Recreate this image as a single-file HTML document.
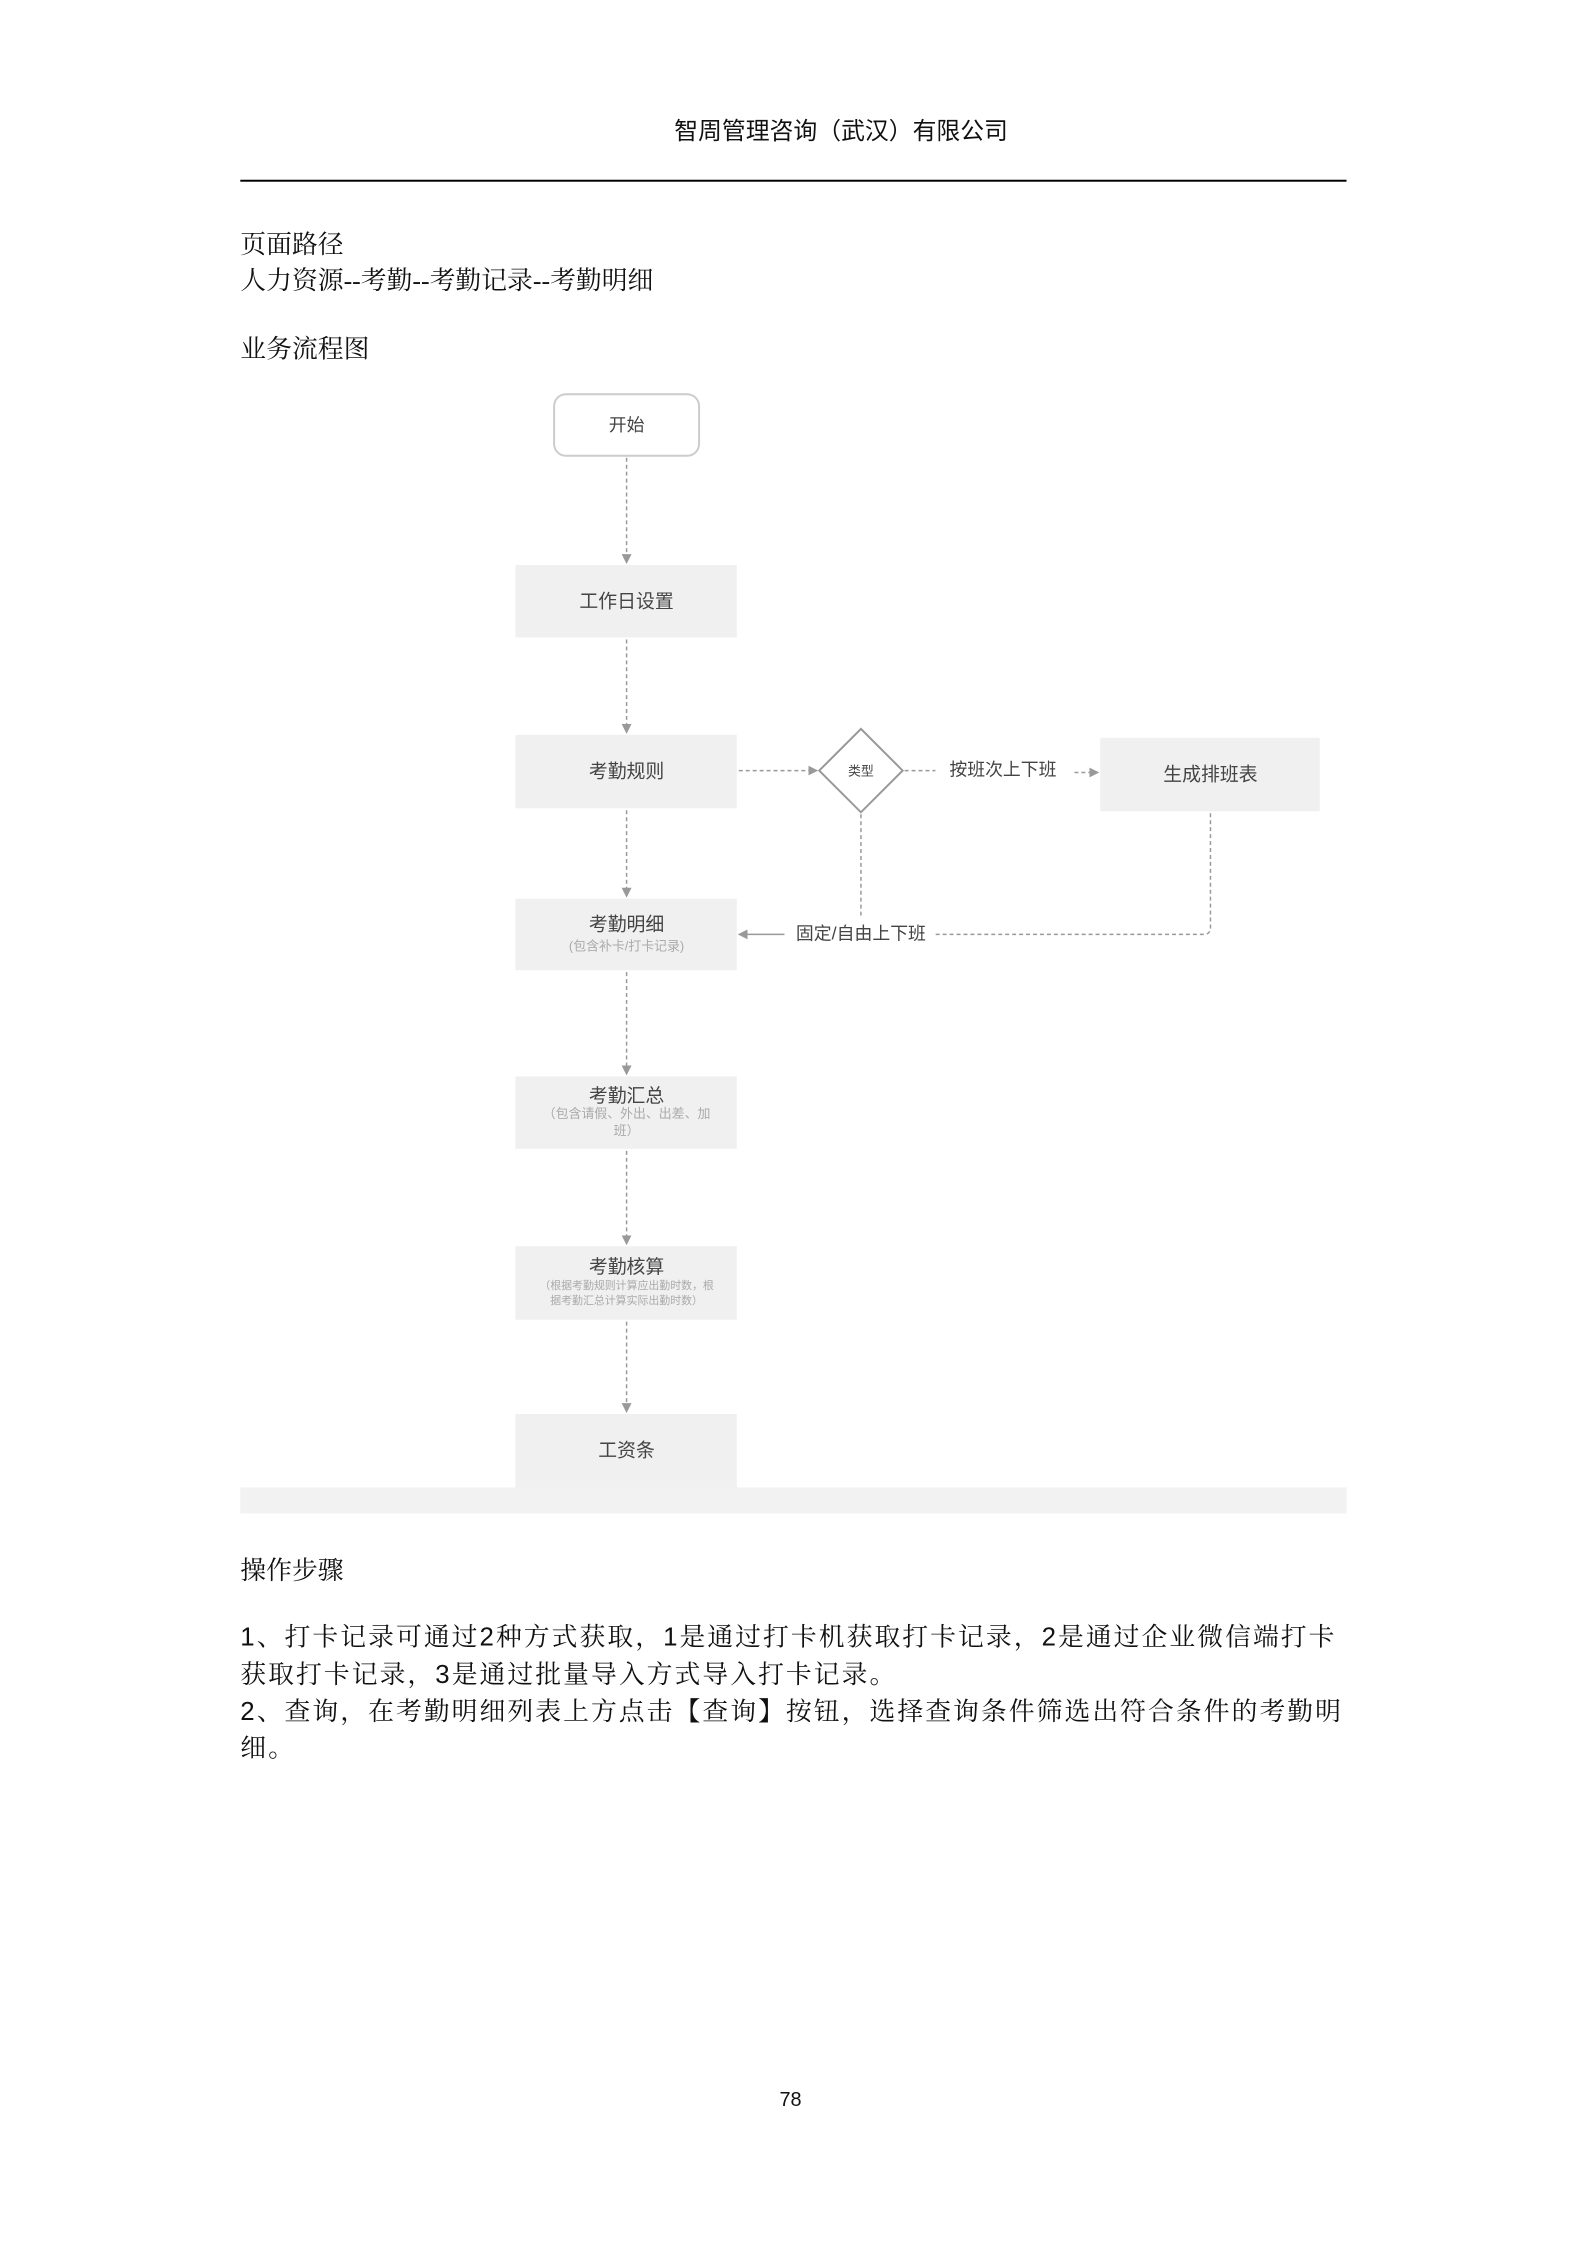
<!DOCTYPE html>
<html><head><meta charset="utf-8"><style>
html,body{margin:0;padding:0;background:#fff;}
body{width:1587px;height:2245px;position:relative;overflow:hidden;font-family:"Liberation Sans","Noto Sans CJK SC",sans-serif;color:#111;}
#w{position:absolute;left:0;top:0;width:1587px;height:2245px;transform:scale(0.993);transform-origin:0 0;}
.t{position:absolute;white-space:nowrap;}
.serif{font-family:"Liberation Serif","Noto Serif CJK SC",serif;font-size:26px;}
.n{font-family:"Liberation Sans",sans-serif;}
</style></head><body><div id="w">
<div class="t" style="left:0;width:1694px;text-align:center;top:112px;font-size:24px;">智周管理咨询（武汉）有限公司</div>
<div style="position:absolute;left:242px;top:181px;width:1114px;height:2px;background:#000;"></div>
<div class="t serif" style="left:242px;top:226px;">页面路径</div>
<div class="t serif" style="left:242px;top:262px;">人力资源--考勤--考勤记录--考勤明细</div>
<div class="t serif" style="left:242px;top:331px;">业务流程图</div>

<svg style="position:absolute;left:0;top:0" width="1587" height="2245" font-family="Liberation Sans, Noto Sans CJK SC, sans-serif">
<defs><marker id="a" markerWidth="10" markerHeight="10" refX="8" refY="5" orient="auto" markerUnits="userSpaceOnUse"><path d="M0,0 L10,5 L0,10 z" fill="#999"/></marker></defs>
<rect x="242" y="1498" width="1114" height="26" fill="#f2f2f2"/>
<rect x="558" y="397" width="146" height="62" rx="12" fill="#fff" stroke="#ccc" stroke-width="2"/>
<text x="631" y="434" text-anchor="middle" font-size="18" fill="#444">开始</text>
<g fill="#f0f0f0">
<rect x="519" y="569" width="223" height="73"/>
<rect x="519" y="740" width="223" height="74"/>
<rect x="1108" y="743" width="221" height="74"/>
<rect x="519" y="905" width="223" height="72"/>
<rect x="519" y="1084" width="223" height="73"/>
<rect x="519" y="1255" width="223" height="74"/>
<rect x="519" y="1424" width="223" height="74"/>
</g>
<g text-anchor="middle" font-size="19" fill="#444">
<text x="631" y="612">工作日设置</text>
<text x="631" y="783">考勤规则</text>
<text x="1219" y="786">生成排班表</text>
<text x="631" y="937">考勤明细</text>
<text x="631" y="1110">考勤汇总</text>
<text x="631" y="1282">考勤核算</text>
<text x="631" y="1467">工资条</text>
<text x="1010" y="781" font-size="18">按班次上下班</text>
<text x="867" y="946" font-size="18">固定/自由上下班</text>
</g>
<g text-anchor="middle" font-size="13" fill="#aaa">
<text x="631" y="957">(包含补卡/打卡记录)</text>
<text x="631" y="1126">（包含请假、外出、出差、加</text>
<text x="631" y="1143">班）</text>
<text x="631" y="1298" font-size="11">（根据考勤规则计算应出勤时数，根</text>
<text x="631" y="1313" font-size="11">据考勤汇总计算实际出勤时数）</text>
</g>
<polygon points="867,734 909,776 867,818 825,776" fill="#fff" stroke="#999" stroke-width="2"/>
<text x="867" y="781" text-anchor="middle" font-size="13" fill="#444">类型</text>
<g stroke="#999" stroke-width="1.5" stroke-dasharray="4,3" fill="none">
<line x1="631" y1="461" x2="631" y2="566" marker-end="url(#a)"/>
<line x1="631" y1="644" x2="631" y2="737" marker-end="url(#a)"/>
<line x1="631" y1="816" x2="631" y2="902" marker-end="url(#a)"/>
<line x1="631" y1="979" x2="631" y2="1081" marker-end="url(#a)"/>
<line x1="631" y1="1159" x2="631" y2="1252" marker-end="url(#a)"/>
<line x1="631" y1="1331" x2="631" y2="1421" marker-end="url(#a)"/>
<line x1="744" y1="776" x2="822" y2="776" marker-end="url(#a)"/>
<line x1="911" y1="776" x2="942" y2="776"/>
<line x1="1082" y1="778" x2="1105" y2="778" marker-end="url(#a)"/>
<line x1="867" y1="820" x2="867" y2="925"/>
<path d="M1219,819 V934 Q1219,941 1212,941 H940"/>
<line x1="790" y1="941" x2="745" y2="941" marker-end="url(#a)" stroke-dasharray="none"/>
</g>
</svg>

<div class="t serif" style="left:242px;top:1561px;">操作步骤</div>
<div class="serif" style="position:absolute;left:242px;top:1630px;width:1122px;line-height:36.5px;letter-spacing:2.05px;"><span class="n">1</span>、打卡记录可通过<span class="n">2</span>种方式获取，<span class="n">1</span>是通过打卡机获取打卡记录，<span class="n">2</span>是通过企业微信端打卡<br>获取打卡记录，<span class="n">3</span>是通过批量导入方式导入打卡记录。<br><span class="n">2</span>、查询，在考勤明细列表上方点击【查询】按钮，选择查询条件筛选出符合条件的考勤明<br>细。</div>
<div class="t" style="left:785px;top:2104px;font-size:20px;">78</div>
</div></body></html>
